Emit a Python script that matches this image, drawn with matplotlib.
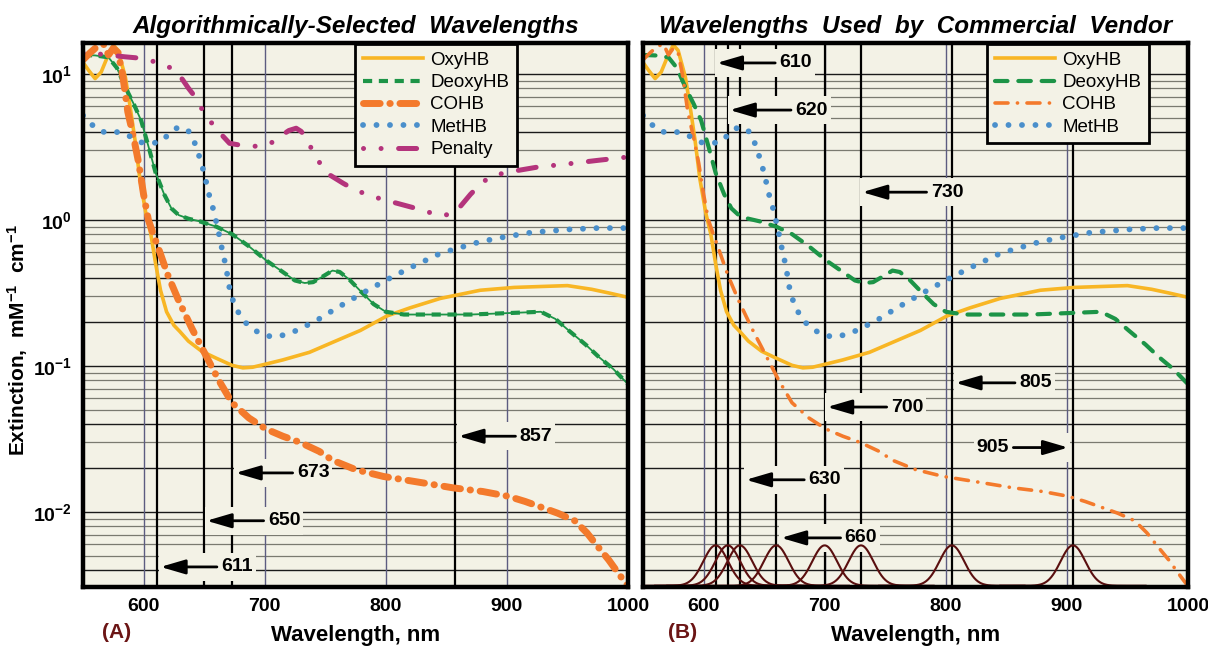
import numpy as np
import matplotlib
matplotlib.use("Agg")
import matplotlib.pyplot as plt
from matplotlib.patches import Rectangle
from matplotlib.ticker import FixedLocator, FuncFormatter, NullLocator

plt.rcParams['font.family'] = 'Liberation Sans'
plt.rcParams['mathtext.fontset'] = 'custom'
plt.rcParams['mathtext.rm'] = 'Liberation Sans:bold'
plt.rcParams['mathtext.bf'] = 'Liberation Sans:bold'
plt.rcParams['mathtext.it'] = 'Liberation Sans:bold:italic'

# --- spectra (nm, mM^-1 cm^-1) ---
oxy_wl = [550, 555, 560, 565, 570, 575, 579, 585, 589, 593, 597, 602, 606, 610, 614, 619,
          625, 630, 637, 648, 660, 673, 682, 690, 701, 715, 737, 756, 779, 801, 820, 845,
          878, 906, 928, 950, 970, 985, 1000]
oxy_ext = [12.0, 10.5, 9.3, 10.3, 13.0, 15.8, 14.5, 9.5, 5.9, 3.5, 1.9, 1.1, 0.8, 0.5, 0.33, 0.235,
           0.19, 0.172, 0.148, 0.126, 0.113, 0.101, 0.097, 0.098, 0.103, 0.11, 0.124, 0.145, 0.175, 0.22, 0.25, 0.29,
           0.33, 0.345, 0.35, 0.355, 0.335, 0.315, 0.295]

deoxy_wl = [550, 560, 571, 578, 585, 592, 598, 604, 610, 617, 623, 629, 637, 646, 660, 673,
            687, 701, 715, 725, 733, 740, 748, 756, 762, 770, 780, 790, 800, 815, 840, 870,
            900, 928, 940, 951, 965, 976, 988, 1000]
deoxy_ext = [13.5, 13.4, 13.0, 11.0, 8.1, 6.2, 4.8, 3.2, 2.1, 1.5, 1.2, 1.08, 1.02, 0.98, 0.9, 0.8,
             0.66, 0.53, 0.44, 0.385, 0.37, 0.375, 0.41, 0.45, 0.44, 0.39, 0.32, 0.265, 0.235, 0.225, 0.225, 0.225,
             0.23, 0.235, 0.21, 0.175, 0.14, 0.115, 0.095, 0.075]

co_wl = [550, 556, 562, 567, 571, 575, 579, 583, 587, 592, 596, 600, 604, 608, 612, 620,
         629, 640, 651, 662, 673, 687, 701, 715, 729, 745, 756, 775, 798, 823, 856, 880,
         901, 915, 928, 942, 956, 966, 975, 984, 992, 1000]
co_ext = [12.5, 14.0, 15.5, 16.0, 13.5, 15.0, 14.0, 9.5, 5.5, 3.6, 2.45, 1.5, 1.0, 0.8, 0.65, 0.42,
          0.28, 0.18, 0.12, 0.08, 0.056, 0.044, 0.037, 0.033, 0.030, 0.026, 0.0226, 0.0195, 0.0175, 0.0162, 0.0146, 0.0138,
          0.0128, 0.0118, 0.0108, 0.0098, 0.0087, 0.0072, 0.0058, 0.0047, 0.0038, 0.0031]

met_wl = [550, 556, 563, 570, 578, 585, 592, 598, 607, 615, 621, 627, 635, 640, 645, 650,
          654, 658, 662, 665, 668, 671, 675, 680, 685, 692, 700, 708, 716, 723, 735, 745,
          758, 770, 785, 801, 820, 845, 878, 900, 920, 950, 975, 1000]
met_ext = [5.2, 4.6, 4.1, 3.95, 4.0, 3.9, 3.6, 3.4, 3.35, 3.45, 3.9, 4.25, 4.25, 3.8, 2.9, 2.1,
           1.5, 1.15, 0.82, 0.62, 0.48, 0.34, 0.26, 0.22, 0.195, 0.175, 0.162, 0.158, 0.163, 0.17, 0.19, 0.21,
           0.245, 0.28, 0.33, 0.39, 0.47, 0.59, 0.71, 0.77, 0.82, 0.86, 0.88, 0.88]

pen_wl = [550, 560, 570, 585, 594, 610, 625, 632, 637, 643, 650, 660, 671, 685, 698, 705,
          712, 720, 726, 730, 734, 741, 751, 765, 775, 790, 805, 825, 845, 855, 862, 870,
          878, 886, 900, 925, 950, 975, 1000]
pen_val = [14.0, 13.8, 13.5, 13.1, 12.9, 12.1, 10.8, 9.2, 8.0, 6.9, 5.4, 4.2, 3.35, 3.2, 3.2, 3.35,
           3.7, 4.1, 4.25, 4.05, 3.7, 2.8, 2.1, 1.78, 1.6, 1.44, 1.33, 1.2, 1.07, 1.1, 1.25, 1.5,
           1.75, 1.98, 2.12, 2.3, 2.42, 2.56, 2.7]

algo_wavelengths = [611, 650, 673, 857]
vendor_wavelengths = [610, 620, 630, 660, 700, 730, 805, 905]
led_fwhm = 24  # nm, LED band width in panel B

# arrow labels: (label, arrow tip x, text x, y)
annot_a = [('857', 860, 924, 0.033), ('673', 676, 740, 0.0185),
           ('650', 652, 716, 0.0087), ('611', 614, 677, 0.0042)]
annot_b = [('610', 611, 676, 11.9), ('620', 621.6, 689, 5.66), ('730', 731, 801, 1.55),
           ('805', 808, 874, 0.0766), ('700', 702, 768, 0.0523), ('630', 635, 700, 0.0166),
           ('660', 664, 730, 0.00664), ('905', 901, 839, 0.0276)]

BG = '#F3F2E6'
C_OXY = '#F8B624'
C_DEOXY = '#1C9447'
C_CO = '#F37A2C'
C_MET = '#4A8FCB'
C_PEN = '#B4347C'
C_LED = '#5A0F0F'
YMIN, YMAX = 0.00306, 16.3

fig = plt.figure(figsize=(12.08, 6.5), dpi=100)
axA = fig.add_axes([83/1208, 63/650, 545/1208, 544/650])
axB = fig.add_axes([643/1208, 63/650, 545/1208, 544/650])


def setup(ax, show_y):
    ax.set_facecolor(BG)
    ax.set_yscale('log')
    ax.set_xlim(550, 1000)
    ax.set_ylim(YMIN, YMAX)
    for k in range(-3, 2):
        for s in range(1, 10):
            v = s * 10.0 ** k
            if YMIN < v < YMAX:
                dark = s in (1, 2, 4)
                ax.axhline(v, color='#1a1a1a' if dark else '#7a7a70',
                           lw=1.0 if dark else 0.9, zorder=1)
    for x in [600, 700, 800, 900]:
        ax.axvline(x, color='#5c5c80', lw=1.0, zorder=1)
    ax.xaxis.set_major_locator(FixedLocator([600, 700, 800, 900, 1000]))
    ax.yaxis.set_major_locator(FixedLocator([0.01, 0.1, 1, 10]))
    ax.yaxis.set_minor_locator(NullLocator())
    ax.yaxis.set_major_formatter(FuncFormatter(lambda v, p: r'$10^{%d}$' % round(np.log10(v))))
    ax.tick_params(length=0, labelsize=14, pad=8)
    for lab in ax.get_xticklabels():
        lab.set_fontweight('bold')
    if not show_y:
        ax.tick_params(labelleft=False)
    for sp in ax.spines.values():
        sp.set_linewidth(3.2)
        sp.set_color('black')
        sp.set_zorder(10)
    ax.set_xlabel('Wavelength, nm', fontsize=16, fontweight='bold', labelpad=7)


def annotate(ax, items):
    for lab, tip, tx, y in items:
        if tx > tip:
            x0, x1 = tip - 1.5, tx + 16
        else:
            x0, x1 = tx - 16, tip + 1.5
        ax.add_patch(Rectangle((x0, y / 1.25), x1 - x0, y * 1.25 - y / 1.25,
                               facecolor=BG, edgecolor='none', zorder=3))
        ax.annotate(lab, xy=(tip, y), xytext=(tx, y), ha='center', va='center',
                    fontsize=14, fontweight='bold', zorder=6,
                    arrowprops=dict(arrowstyle='-|>,head_length=0.75,head_width=0.22',
                                    color='black', lw=2, mutation_scale=20,
                                    shrinkA=1, shrinkB=0))


def legend(ax, xr):
    leg = ax.legend(loc='upper right', bbox_to_anchor=(xr, 0.998), borderaxespad=0,
                    fontsize=13.5, handlelength=3.2, labelspacing=0.28, borderpad=0.4,
                    handletextpad=0.4, fancybox=False, framealpha=1, facecolor=BG,
                    edgecolor='black')
    leg.get_frame().set_linewidth(2)
    leg.set_zorder(20)


setup(axA, True)
setup(axB, False)

# ---- panel A ----
for w in algo_wavelengths:
    axA.axvline(w, color='black', lw=1.6, zorder=2)
annotate(axA, annot_a)
axA.plot(oxy_wl, oxy_ext, color=C_OXY, lw=2.6, zorder=4, label='OxyHB')
axA.plot(deoxy_wl, deoxy_ext, color=C_DEOXY, lw=1.3, zorder=4)
axA.plot(deoxy_wl, deoxy_ext, color=C_DEOXY, lw=3, ls=(0, (2.2, 1.6)), zorder=4, label='DeoxyHB')
axA.plot(co_wl, co_ext, color=C_CO, lw=5, ls=(0, (2.4, 1.4, 0.05, 1.4)),
         dash_capstyle='round', zorder=4, label='COHB')
axA.plot(met_wl, met_ext, color=C_MET, lw=4.2, ls=(0, (0.01, 2.3)),
         dash_capstyle='round', zorder=4, label='MetHB')
axA.plot(pen_wl, pen_val, color=C_PEN, lw=3.6, ls=(0, (0.01, 3.5, 0.01, 3.5, 3.6, 3.5)),
         dash_capstyle='round', zorder=4, label='Penalty')
axA.set_title('Algorithmically-Selected  Wavelengths', fontsize=17.5,
              fontweight='bold', fontstyle='italic', pad=7)
axA.set_ylabel('Extinction,  mM$^{-1}$  cm$^{-1}$', fontsize=15, fontweight='bold')
axA.yaxis.set_label_coords(-0.097, 0.454)
legend(axA, 0.796)

# ---- panel B ----
for w in vendor_wavelengths:
    axB.axvline(w, color='black', lw=1.6, zorder=2)
annotate(axB, annot_b)
sig = led_fwhm / 2.355
ypk = 0.0059
for c in vendor_wavelengths:
    xs = np.linspace(c - 60, c + 60, 241)
    g = np.exp(-0.5 * ((xs - c) / sig) ** 2)
    axB.plot(xs, YMIN * 1.02 * (ypk / (YMIN * 1.02)) ** g, color=C_LED, lw=1.5, zorder=5)
axB.plot(oxy_wl, oxy_ext, color=C_OXY, lw=2.6, zorder=4, label='OxyHB')
axB.plot(deoxy_wl, deoxy_ext, color=C_DEOXY, lw=3, ls=(0, (3.0, 2.6)),
         dash_capstyle='round', zorder=4, label='DeoxyHB')
axB.plot(co_wl, co_ext, color=C_CO, lw=2.6, ls=(0, (3.6, 2.6, 0.05, 2.6)),
         dash_capstyle='round', zorder=4, label='COHB')
axB.plot(met_wl, met_ext, color=C_MET, lw=4.2, ls=(0, (0.01, 2.3)),
         dash_capstyle='round', zorder=4, label='MetHB')
axB.set_title('Wavelengths  Used  by  Commercial  Vendor', fontsize=17.5,
              fontweight='bold', fontstyle='italic', pad=7)
legend(axB, 0.928)

fig.text(117/1208, 1 - 632/650, '(A)', color='#6B1515', fontsize=15,
         fontweight='bold', ha='center', va='center')
fig.text(683/1208, 1 - 632/650, '(B)', color='#6B1515', fontsize=15,
         fontweight='bold', ha='center', va='center')

fig.savefig('out.png', dpi=100, facecolor='white')
